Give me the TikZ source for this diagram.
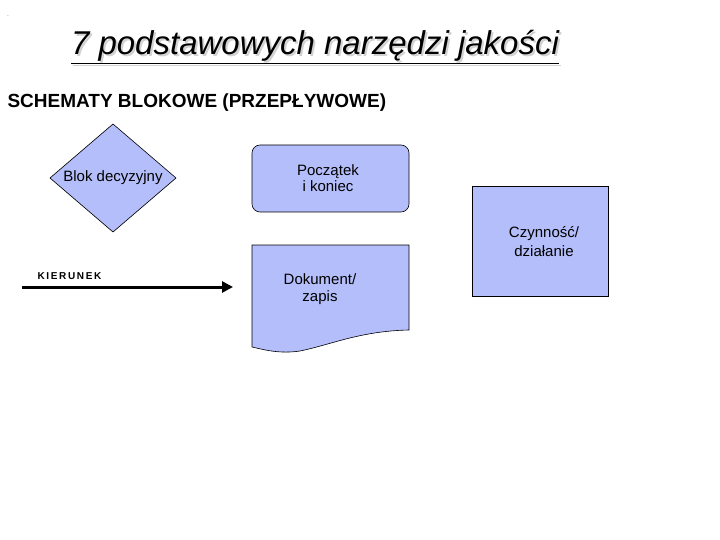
\documentclass[tikz,border=0pt]{standalone}
\usepackage{fontspec}
\setmainfont{Liberation Sans}
\usetikzlibrary{shapes.geometric,arrows.meta}
\definecolor{bfill}{RGB}{180,190,250}
\tikzset{shp/.style={draw=black,fill=bfill,line width=0.6pt},
 lbl/.style={font=\fontsize{15}{18}\selectfont,align=center}}
\begin{document}
\begin{tikzpicture}[x=1pt,y=-1pt]
\useasboundingbox (0,0) rectangle (720,540);
\node[font=\tiny] (dot) at (8,16) {.};
\node[font=\fontsize{33}{36}\selectfont\itshape,text=gray!35] (shadow) at (317,49) {\underline{7 podstawowych narzędzi jakości}};
\node[font=\fontsize{33}{36}\selectfont\itshape] (title) at (315,47) {\underline{7 podstawowych narzędzi jakości}};
\node[font=\fontsize{19}{22}\selectfont\bfseries,anchor=west] (sub) at (4,103) {SCHEMATY BLOKOWE (PRZEPŁYWOWE)};
\draw[shp] (113,124) -- (176,178) -- (113,232) -- (50,178) -- cycle;
\node[lbl] (dec) at (113,178) {Blok decyzyjny};
\draw[shp,rounded corners=8pt] (252,145) rectangle (409,212);
\node[lbl] (start) at (328,178) {Początek\\[-2pt]i koniec};
\draw[shp] (472,186) rectangle (608,296);
\node[lbl] (act) at (544,242) {Czynność/\\[1pt]działanie};
\draw[shp] (252,245) -- (409,245) -- (409,330) .. controls (360,331) and (330,345) .. (300,351) .. controls (280,354) and (265,350) .. (252,347) -- cycle;
\node[lbl] (doc) at (320,289) {Dokument/\\[-1pt]zapis};
\coordinate (a1) at (22,287);
\coordinate (a2) at (233,287);
\draw[line width=3pt,-{Triangle[length=11pt,width=11pt]}] (a1) -- (a2);
\node[font=\fontsize{10}{11}\selectfont\bfseries,anchor=west] (kier) at (34,276) {K\,I\,E\,R\,U\,N\,E\,K};
\end{tikzpicture}
\end{document}
